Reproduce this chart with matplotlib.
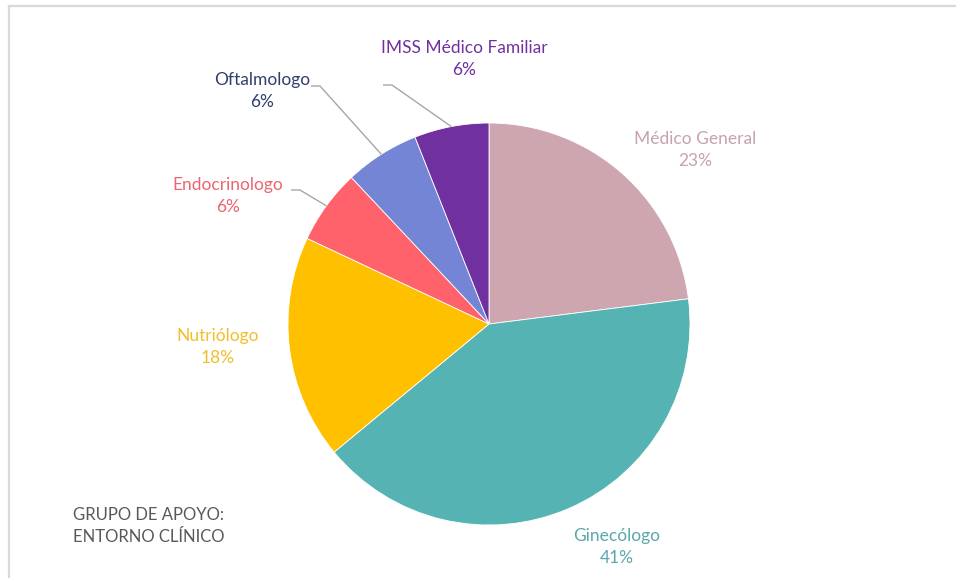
import numpy as np
import matplotlib
matplotlib.use("Agg")
import matplotlib.pyplot as plt
from matplotlib.lines import Line2D

categories = ["Médico General", "Ginecólogo", "Nutriólogo", "Endocrinologo",
              "Oftalmologo", "IMSS Médico Familiar"]
values = [23, 41, 18, 6, 6, 6]
slice_colors = ["#CDA6AF", "#55B4B3", "#FFC000", "#FF626A", "#7585D5", "#7030A0"]
label_colors = ["#C6A2AE", "#5AA8AC", "#F2BE2C", "#EE6470", "#2F3F6E", "#7030A0"]
title_lines = ["GRUPO DE APOYO:", "ENTORNO CLÍNICO"]

W, H = 956, 578
plt.rcParams["font.family"] = ["Lato", "DejaVu Sans"]

fig = plt.figure(figsize=(W / 100, H / 100), dpi=100)
ax = fig.add_axes([0, 0, 1, 1])

def Y(y):
    return H - y

cx, cy, r = 489, Y(324), 201
wedges, _ = ax.pie(values, colors=slice_colors, startangle=90, counterclock=False,
                   center=(cx, cy), radius=r, frame=True,
                   wedgeprops=dict(edgecolor="white", linewidth=0.6))
ax.set_xlim(0, W)
ax.set_ylim(0, H)
ax.set_aspect("equal")
ax.axis("off")

# label anchor points (centre of the two-line label)
label_pos = {
    "Médico General": (695, 150),
    "Ginecólogo": (617, 547),
    "Nutriólogo": (218, 347),
    "Endocrinologo": (228, 196),
    "Oftalmologo": (262, 91),
    "IMSS Médico Familiar": (464, 59),
}
# leader lines: start of the horizontal tick next to the label
leaders = {
    "Endocrinologo": (291, 190),
    "Oftalmologo": (311, 86),
    "IMSS Médico Familiar": (383, 85),
}

for cat, val, w, col in zip(categories, values, wedges, label_colors):
    lx, ly = label_pos[cat]
    ax.text(lx, Y(ly), f"{cat}\n{val}%", color=col, fontsize=12.5, ha="center",
            va="center", linespacing=1.45)
    if cat in leaders:
        mid = np.deg2rad((w.theta1 + w.theta2) / 2)
        ex = cx + r * np.cos(mid)
        ey = cy + r * np.sin(mid)
        sx, sy = leaders[cat]
        ax.plot([sx, sx + 9, ex], [Y(sy), Y(sy), ey], color="#A6A6A6",
                lw=1.0, solid_capstyle="butt")

ax.text(73, Y(526), "\n".join(title_lines), color="#595959", fontsize=12,
        ha="left", va="center", linespacing=1.4)

# thin frame on the top and left edges
fig.add_artist(Line2D([8.5 / W, 1], [1 - 5.5 / H, 1 - 5.5 / H], color="#D9D9D9",
                      lw=1.6, transform=fig.transFigure))
fig.add_artist(Line2D([8.5 / W, 8.5 / W], [0, 1 - 5.5 / H], color="#D9D9D9",
                      lw=1.6, transform=fig.transFigure))

fig.savefig("out.png", dpi=100, facecolor="white")
